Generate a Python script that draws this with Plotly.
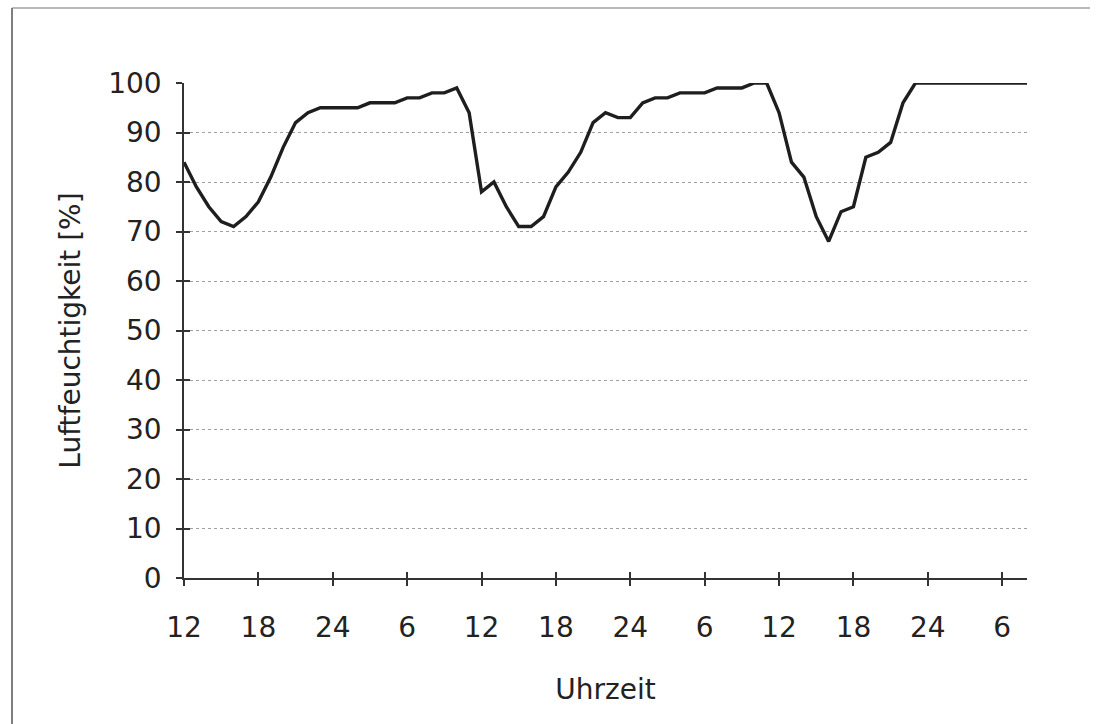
import plotly.graph_objects as go

# Hourly relative humidity, starting 12:00 of day 1
humidity = [84, 79, 75, 72, 71, 73, 76, 81, 87, 92, 94, 95, 95, 95, 95, 96, 96, 96,
            97, 97, 98, 98, 99, 94, 78, 80, 75, 71, 71, 73, 79, 82, 86, 92, 94, 93,
            93, 96, 97, 97, 98, 98, 98, 99, 99, 99, 100, 100, 94, 84, 81, 73, 68, 74,
            75, 85, 86, 88, 96, 100, 100, 100, 100, 100, 100, 100, 100, 100, 100]
hours = list(range(len(humidity)))

tick_pos = [0, 6, 12, 18, 24, 30, 36, 42, 48, 54, 60, 66]
tick_text = ["12", "18", "24", "6", "12", "18", "24", "6", "12", "18", "24", "6"]
y_ticks = [0, 10, 20, 30, 40, 50, 60, 70, 80, 90, 100]

FONT = "DejaVu Sans"
TXT = "#222222"
AX = "#333333"
FS = 28

fig = go.Figure()
fig.add_trace(go.Scatter(x=hours, y=humidity, mode="lines",
                         line=dict(color="#1e1e1e", width=3.4), showlegend=False,
                         hoverinfo="skip"))
# invisible trace to activate overlay axes (crossing tick marks)
fig.add_trace(go.Scatter(x=hours, y=humidity, mode="lines", xaxis="x2", yaxis="y2",
                         line=dict(color="rgba(0,0,0,0)", width=0), showlegend=False,
                         hoverinfo="skip"))

fig.update_layout(
    width=1100, height=724,
    margin=dict(l=184, r=73, t=83, b=146),
    paper_bgcolor="white", plot_bgcolor="white",
    font=dict(family=FONT, size=FS, color=TXT),
    xaxis=dict(range=[0, 68], tickmode="array", tickvals=tick_pos, ticktext=tick_text,
               showgrid=False, zeroline=False, showline=True, linecolor=AX, linewidth=1.5,
               ticks="outside", ticklen=6, tickwidth=1.5, tickcolor=AX,
               ticklabelstandoff=18,
               title=dict(text="Uhrzeit", standoff=36, font=dict(size=FS, color=TXT)),
               tickfont=dict(size=FS, color=TXT)),
    yaxis=dict(range=[0, 100], tickmode="array", tickvals=y_ticks,
               showgrid=True, gridcolor="#a0a0a0", griddash="dot", gridwidth=1,
               zeroline=False, showline=True, linecolor=AX, linewidth=1.5,
               ticks="outside", ticklen=6, tickwidth=1.5, tickcolor=AX,
               ticklabelstandoff=9,
               title=dict(text="Luftfeuchtigkeit [%]", standoff=19,
                          font=dict(size=FS, color=TXT)),
               tickfont=dict(size=FS, color=TXT)),
    xaxis2=dict(range=[0, 68], overlaying="x", tickmode="array", tickvals=tick_pos,
                showticklabels=False, showgrid=False, zeroline=False, showline=False,
                ticks="inside", ticklen=6, tickwidth=1.5, tickcolor=AX, side="bottom"),
    yaxis2=dict(range=[0, 100], overlaying="y", tickmode="array", tickvals=y_ticks,
                showticklabels=False, showgrid=False, zeroline=False, showline=False,
                ticks="inside", ticklen=6, tickwidth=1.5, tickcolor=AX, side="left"),
    shapes=[
        dict(type="line", xref="paper", yref="paper",
             x0=(12 - 184) / 843, x1=(12 - 184) / 843,
             y0=(578 - 8) / 495, y1=(578 - 724) / 495,
             line=dict(color="#555555", width=1.5)),
        dict(type="line", xref="paper", yref="paper",
             x0=(12 - 184) / 843, x1=(1090 - 184) / 843,
             y0=(578 - 8) / 495, y1=(578 - 8) / 495,
             line=dict(color="#777777", width=1.2)),
    ],
)

fig.write_html("out.html", config={"displayModeBar": False},
               post_script="document.body.style.margin='0';document.body.style.padding='0';")
